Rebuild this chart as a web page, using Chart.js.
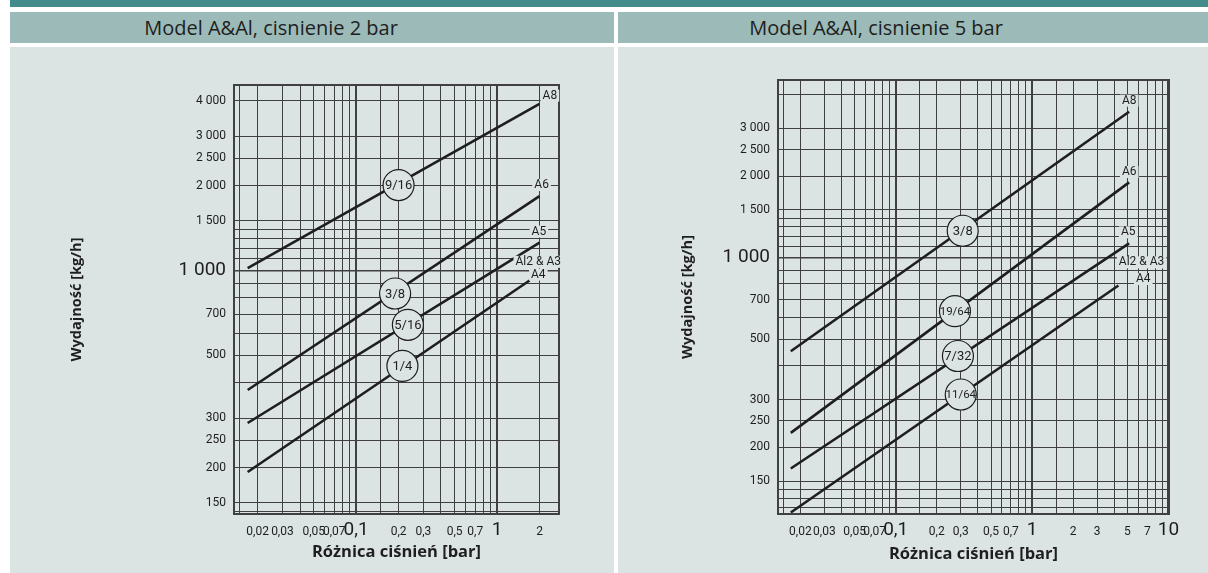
<!DOCTYPE html>
<html>
<head>
<meta charset="utf-8">
<script src="https://cdn.jsdelivr.net/npm/chart.js@4.4.1/dist/chart.umd.min.js"></script>
<style>
    html, body { margin: 0; padding: 0; background: #fff; }
    body { width: 1208px; height: 573px; position: relative; overflow: hidden; font-family: 'Open Sans', sans-serif; }
    .topbar { position: absolute; left: 10px; top: 0; width: 1198px; height: 7px; background: #438c8a; }
    .head { position: absolute; top: 12px; height: 31px; background: #9bbab8; color: #1e1e1e; line-height: 31px; font-size: 20px; font-weight: 500; text-align: center; }
    .panel { position: absolute; top: 47px; height: 526px; background: #dce3e3; }
    canvas { position: absolute; left: 0; top: 0; }
</style>
</head>
<body>
<div class="topbar"></div>
<div class="head" style="left:10px;width:522px;padding-right:82px">Model A&amp;Al, cisnienie 2 bar</div>
<div class="head" style="left:618px;width:516px;padding-right:74px">Model A&amp;Al, cisnienie 5 bar</div>
<div class="panel" style="left:10px;width:604px"><canvas id="chart2" width="604" height="526"></canvas></div>
<div class="panel" style="left:618px;width:590px"><canvas id="chart5" width="590" height="526"></canvas></div>

<script>
'use strict';

// grid lines of the pressure drop axis (bar)
const xLines2 = [0.015, 0.02, 0.03, 0.04, 0.05, 0.06, 0.07, 0.08, 0.09, 0.1, 0.15, 0.2, 0.3, 0.4, 0.5, 0.6, 0.7, 0.8, 0.9, 1, 2];
const xLines5 = [0.015, 0.02, 0.03, 0.04, 0.05, 0.06, 0.07, 0.08, 0.09, 0.1, 0.15, 0.2, 0.3, 0.4, 0.5, 0.6, 0.7, 0.8, 0.9, 1, 1.5, 2, 3, 4, 5, 6, 7, 8, 9, 10];
const xTickText = { 0.02: '0,02', 0.03: '0,03', 0.05: '0,05', 0.07: '0,07', 0.1: '0,1', 0.2: '0,2', 0.3: '0,3', 0.5: '0,5', 0.7: '0,7', 1: '1', 2: '2', 3: '3', 5: '5', 7: '7', 10: '10' };
const xBig = [0.1, 1, 10];

// grid lines of the capacity axis (kg/h)
const yLines2 = [140, 150, 200, 250, 300, 400, 500, 600, 700, 800, 900, 1000, 1100, 1200, 1300, 1400, 1500, 2000, 2500, 3000, 4000];
const yLines5 = [120, 130, 140, 150, 200, 250, 300, 400, 500, 600, 700, 800, 900, 1000, 1100, 1200, 1300, 1400, 1500, 2000, 2500, 3000, 4000];
const yTicks2 = [150, 200, 250, 300, 500, 700, 1000, 1500, 2000, 2500, 3000, 4000];
const yTicks5 = [150, 200, 250, 300, 500, 700, 1000, 1500, 2000, 2500, 3000];

// 2 bar: each line from start to end point
const names2 = ['A8', 'A6', 'A5', 'A4'];
const start2x = [0.017, 0.017, 0.017, 0.017];
const start2y = [1020, 377, 288, 193];
const end2x = [2, 2, 2, 1.7];
const end2y = [3900, 1836, 1257, 922];

// 5 bar
const names5 = ['A8', 'A6', 'A5', 'A4'];
const start5x = [0.017, 0.017, 0.017, 0.017];
const start5y = [452, 226, 167, 115];
const end5x = [5.15, 5.15, 5.15, 4.3];
const end5y = [3453, 1896, 1129, 790];

// nozzle sizes in circles
const nozzle2 = ['9/16', '3/8', '5/16', '1/4'];
const nozzle2x = [0.2, 0.189, 0.233, 0.213];
const nozzle2y = [2010, 829, 642, 459];
const nozzle5 = ['3/8', '19/64', '7/32', '11/64'];
const nozzle5x = [0.31, 0.272, 0.286, 0.3];
const nozzle5y = [1257, 635, 434, 313];

// model tags at the line ends
const tags2 = ['A8', 'A6', 'A5', 'Al2 & A3', 'A4'];
const tags2x = [2.37, 2.07, 1.98, 1.96, 1.96];
const tags2y = [4170, 2010, 1375, 1074, 968];
const tags5 = ['A8', 'A6', 'A5', 'Al2 & A3', 'A4'];
const tags5x = [5.16, 5.16, 5.07, 6.36, 6.54];
const tags5y = [3793, 2070, 1240, 961, 834];

const narrow = "'Liberation Sans Narrow', 'Arial Narrow', Roboto, sans-serif";
const ink = '#1e1e1e';
const gridInk = '#404040';
const panelBg = '#dce3e3';

function thousands(v) {
    if (v < 1000) return String(v);
    return Math.floor(v / 1000) + ' ' + String(v % 1000).padStart(3, '0');
}

function decorPlugin(cfg) {
    return {
        id: 'decor',
        afterDatasetsDraw(chart) {
            let c = chart.ctx;
            let a = chart.chartArea;
            let xs = chart.scales.x;
            let ys = chart.scales.y;
            c.save();
            c.strokeStyle = gridInk;
            c.lineWidth = 2;
            c.strokeRect(a.left, a.top, a.right - a.left, a.bottom - a.top);

            c.textAlign = 'center';
            c.textBaseline = 'middle';
            c.font = '12px ' + narrow;
            for (let i = 0; i < cfg.tags.length; i++) {
                let px = xs.getPixelForValue(cfg.tagX[i]);
                let py = ys.getPixelForValue(cfg.tagY[i]);
                let w = c.measureText(cfg.tags[i]).width + 4;
                c.fillStyle = panelBg;
                c.fillRect(px - w / 2, py - 6, w, 12);
                c.fillStyle = ink;
                c.fillText(cfg.tags[i], px, py);
            }

            for (let i = 0; i < cfg.nozzle.length; i++) {
                let px = xs.getPixelForValue(cfg.nozzleX[i]);
                let py = ys.getPixelForValue(cfg.nozzleY[i]);
                c.beginPath();
                c.arc(px, py, 15.5, 0, Math.PI * 2);
                c.fillStyle = panelBg;
                c.fill();
                c.lineWidth = 1.2;
                c.strokeStyle = ink;
                c.stroke();
                c.fillStyle = ink;
                c.font = (cfg.nozzle[i].length > 4 ? '11.5px ' : '13px ') + narrow;
                c.fillText(cfg.nozzle[i], px, py + 1);
            }
            c.restore();
        }
    };
}

function makeChart(id, cfg) {
    let datasets = [];
    for (let i = 0; i < cfg.names.length; i++) {
        datasets.push({
            label: cfg.names[i],
            data: [{x: cfg.x0[i], y: cfg.y0[i]}, {x: cfg.x1[i], y: cfg.y1[i]}],
            borderColor: ink,
            borderWidth: 2.6,
            pointRadius: 0,
            showLine: true
        });
    }
    let tickFont = function(big) {
        return big ? {family: narrow, size: 19, lineHeight: 0.55} : {family: narrow, size: 12};
    };
    let ctx = document.getElementById(id).getContext('2d');
    return new Chart(ctx, {
        type: 'scatter',
        data: {datasets: datasets},
        plugins: [decorPlugin(cfg)],
        options: {
            responsive: false,
            animation: false,
            layout: {padding: cfg.padding},
            plugins: {legend: {display: false}, tooltip: {enabled: false}},
            scales: {
                x: {
                    type: 'logarithmic',
                    bounds: 'data',
                    min: cfg.xMin,
                    max: cfg.xMax,
                    afterBuildTicks: function(s) { s.ticks = cfg.xLines.map(v => ({value: v})); },
                    afterFit: function(s) { s.height = cfg.xAxisH; },
                    border: {display: false},
                    grid: {
                        color: gridInk,
                        drawTicks: false,
                        lineWidth: c => (c.tick && xBig.includes(c.tick.value)) ? 2 : 1
                    },
                    ticks: {
                        autoSkip: false,
                        maxRotation: 0,
                        padding: 11,
                        color: ink,
                        callback: v => xTickText[v] || '',
                        font: c => tickFont(c.tick && xBig.includes(c.tick.value))
                    },
                    title: {
                        display: true,
                        text: 'Różnica ciśnień [bar]',
                        color: ink,
                        font: {family: "'Open Sans'", size: 16.5, weight: 'bold'},
                        padding: {top: 0, bottom: cfg.xTitlePad}
                    }
                },
                y: {
                    type: 'logarithmic',
                    bounds: 'data',
                    min: cfg.yMin,
                    max: cfg.yMax,
                    afterBuildTicks: function(s) { s.ticks = cfg.yLines.map(v => ({value: v})); },
                    afterFit: function(s) { s.width = cfg.yAxisW; },
                    border: {display: false},
                    grid: {
                        color: gridInk,
                        drawTicks: false,
                        lineWidth: c => (c.tick && c.tick.value === 1000) ? 1.5 : 1
                    },
                    ticks: {
                        autoSkip: false,
                        padding: 8,
                        color: ink,
                        callback: v => cfg.yTicks.includes(v) ? thousands(v) : '',
                        font: c => tickFont(c.tick && c.tick.value === 1000)
                    },
                    title: {
                        display: true,
                        text: 'Wydajność [kg/h]',
                        color: ink,
                        font: {family: "'Open Sans'", size: 14.5, weight: 'bold'},
                        padding: {top: cfg.yTitlePad, bottom: 0}
                    }
                }
            }
        }
    });
}

makeChart('chart2', {
    names: names2, x0: start2x, y0: start2y, x1: end2x, y1: end2y,
    nozzle: nozzle2, nozzleX: nozzle2x, nozzleY: nozzle2y,
    tags: tags2, tagX: tags2x, tagY: tags2y,
    xLines: xLines2, yLines: yLines2, yTicks: yTicks2,
    xMin: 0.0136, xMax: 2.75, yMin: 137, yMax: 4550,
    padding: {left: 50, right: 55, top: 38, bottom: 0},
    yAxisW: 174, xAxisH: 59, xTitlePad: 11, yTitlePad: 8
});

makeChart('chart5', {
    names: names5, x0: start5x, y0: start5y, x1: end5x, y1: end5y,
    nozzle: nozzle5, nozzleX: nozzle5x, nozzleY: nozzle5y,
    tags: tags5, tagX: tags5x, tagY: tags5y,
    xLines: xLines5, yLines: yLines5, yTicks: yTicks5,
    xMin: 0.0137, xMax: 10.1, yMin: 113.5, yMax: 4520,
    padding: {left: 50, right: 39, top: 33, bottom: 0},
    yAxisW: 110, xAxisH: 59, xTitlePad: 9, yTitlePad: 11
});
</script>
</body>
</html>
